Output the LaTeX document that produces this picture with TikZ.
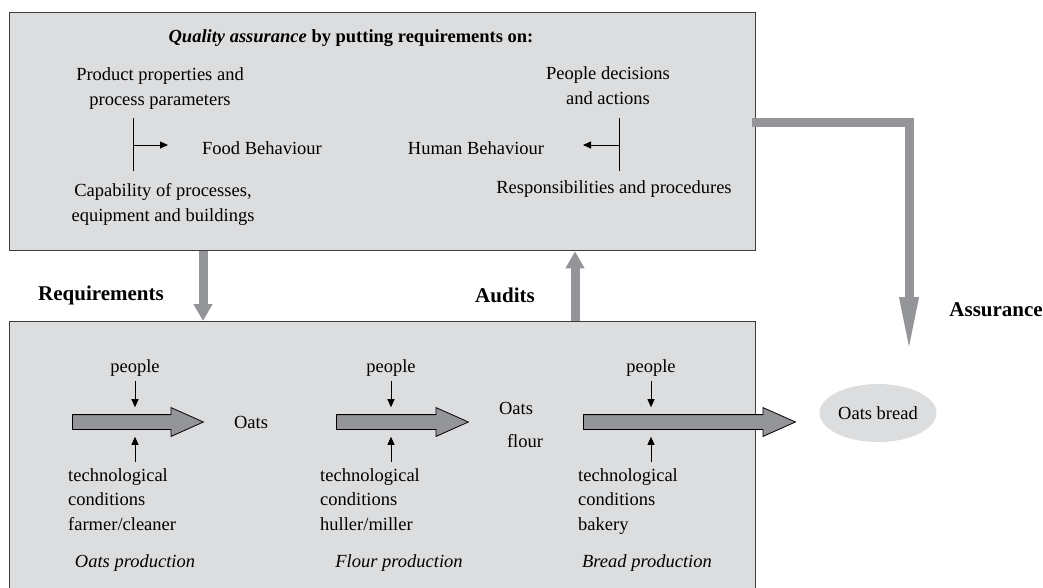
\documentclass[tikz,border=0pt]{standalone}
\usepackage{fontspec}
\setmainfont{Liberation Serif}
\usetikzlibrary{positioning,calc,shapes.arrows,shapes.geometric,arrows.meta}

\definecolor{boxgray}{HTML}{DCDDDF}
\definecolor{pipegray}{HTML}{939598}
\definecolor{edgegray}{HTML}{3C3C3C}

\tikzstyle{panel}=[
	rectangle,
	draw=edgegray,
	line width=1.3pt,
	fill=boxgray,
	anchor=north west,
	minimum width=746pt]
\tikzstyle{txt}=[font=\fontsize{18.5}{24.5}\selectfont, inner sep=0pt, align=center]
\tikzstyle{stage}=[txt, font=\fontsize{18.5}{24.5}\selectfont\itshape]
\tikzstyle{lbl}=[font=\fontsize{21}{25}\selectfont\bfseries, inner sep=0pt]
\tikzstyle{flow}=[
	single arrow,
	draw=black,
	fill=pipegray,
	line width=0.8pt,
	inner xsep=0pt, inner ysep=7pt,
	minimum width=28pt,
	single arrow head extend=7pt,
	single arrow tip angle=48,
	anchor=tail]
\tikzstyle{pipe}=[draw=pipegray, line width=9pt]
\tikzstyle{pointer}=[-{Triangle[length=8pt,width=7pt]}, line width=0.9pt]
\tikzstyle{stem}=[line width=0.9pt]

\begin{document}
\begin{tikzpicture}[x=1pt,y=-1pt]
	\useasboundingbox (0,0) rectangle (1043,587);

	% quality assurance panel
	\node (qaBox) [panel, minimum height=238pt] at (9,12) {};
	\node (qaTitle) [txt, font=\fontsize{18.5}{24.5}\selectfont\bfseries] at (351,38) {\textit{Quality assurance} by putting requirements on:};

	\node (prodReq) [txt] at (160,88.5) {Product properties and\\process parameters};
	\node (capReq) [txt] at (163,204.5) {Capability of processes,\\equipment and buildings};
	\node (foodBeh) [txt] at (262,148) {Food Behaviour};

	\node (peopleReq) [txt] at (608,85.5) {People decisions\\and actions};
	\node (respReq) [txt] at (614,189) {Responsibilities and procedures};
	\node (humanBeh) [txt] at (476,148) {Human Behaviour};

	\coordinate (foodBar) at (133,145);
	\coordinate (humanBar) at (619,145);
	\draw[stem] (foodBar) ++(0,-27) -- ++(0,53);
	\draw[pointer] (foodBar) -- ++(35,0);
	\draw[stem] (humanBar) ++(0,-27) -- ++(0,53);
	\draw[pointer] (humanBar) -- ++(-36,0);

	% production chain panel
	\node (chainBox) [panel, minimum height=280pt] at (9,321) {};

	\node (flowOats) [flow, minimum height=131pt] at (72,422) {};
	\node (flowFlour) [flow, minimum height=132pt] at (336,422) {};
	\node (flowBread) [flow, minimum height=212pt] at (583,422) {};

	\node (oatsA) [txt] at (251,422) {Oats};
	\node (oatsB) [txt] at (516,408) {Oats};
	\node (flourB) [txt] at (525,441) {flour};

	\node (peopleOats) [txt] at (135,368) {people};
	\node (peopleFlour) [txt] at (391,368) {people};
	\node (peopleBread) [txt] at (651,368) {people};

	\node (techOats) [txt, align=left, anchor=north west] at (68,468) {technological\\conditions\\farmer/cleaner};
	\node (techFlour) [txt, align=left, anchor=north west] at (320,468) {technological\\conditions\\huller/miller};
	\node (techBread) [txt, align=left, anchor=north west] at (578,468) {technological\\conditions\\bakery};

	\node (stageOats) [stage] at (135,563) {Oats production};
	\node (stageFlour) [stage] at (399,563) {Flour production};
	\node (stageBread) [stage] at (647,563) {Bread production};

	\foreach \col in {Oats,Flour,Bread}{
		\draw[pointer] ($(people\col.south)+(0,4)$) -- ($(people\col.south |- flow\col.north)+(0,-7)$);
		\draw[pointer] ($(techOats.north -| people\col)+(0,-6)$) -- ($(people\col |- flow\col.south)+(0,7)$);
	}

	% final product
	\node (oatsBread) [txt, ellipse, fill=boxgray, minimum width=117pt, minimum height=58pt] at (878,413) {Oats bread};

	% flows between panels
	\coordinate (reqX) at (203,0);
	\coordinate (auditX) at (575,0);
	\coordinate (assureRow) at (0,122);
	\coordinate (assureTip) at (909,355);
	\draw[pipe, -{Triangle[length=17pt,width=18pt]}] (qaBox.south -| reqX) -- (chainBox.north -| reqX);
	\draw[pipe, -{Triangle[length=17pt,width=18pt]}] (chainBox.north -| auditX) -- (qaBox.south -| auditX);
	\draw[pipe, -{Triangle[length=58pt,width=17pt]}] ($(qaBox.east |- assureRow)+(-4,0)$) -| (assureTip);

	\node (reqLbl) [lbl, anchor=west] at (38,295) {Requirements};
	\node (auditLbl) [lbl] at (505,295) {Audits};
	\node (assureLbl) [lbl, anchor=east] at (1043,310) {Assurance};
\end{tikzpicture}
\end{document}
